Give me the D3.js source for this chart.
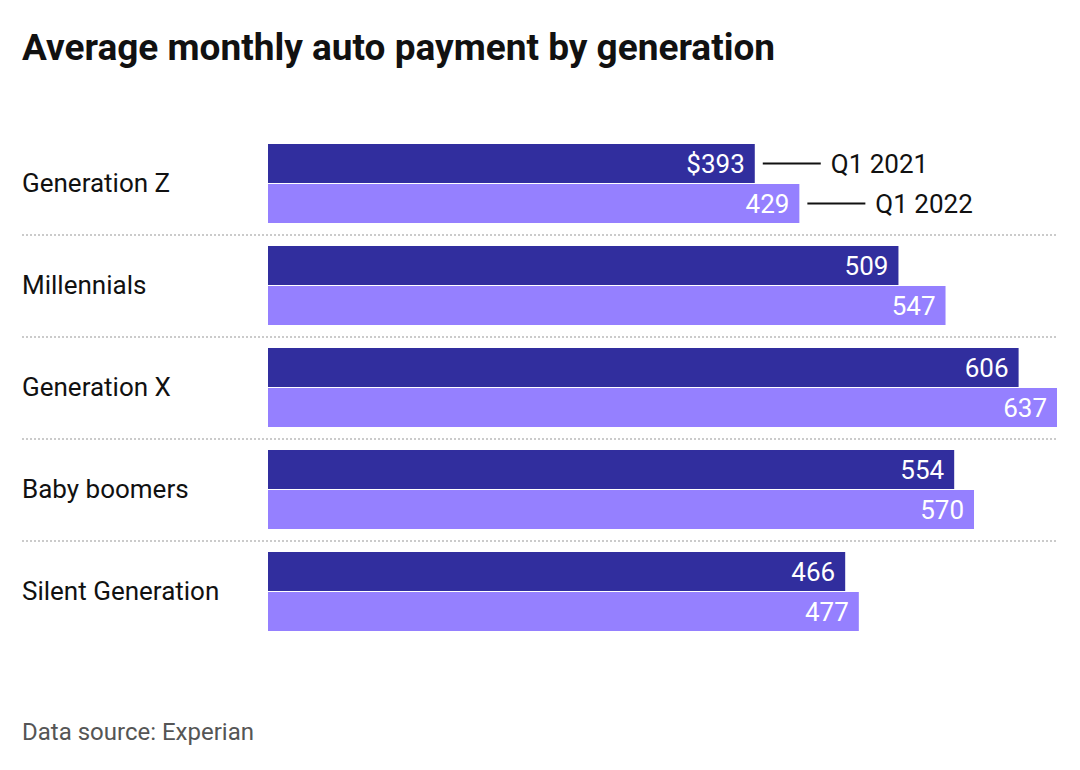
<!DOCTYPE html>
<html><head><meta charset="utf-8">
<script src="https://cdn.jsdelivr.net/npm/d3@7"></script>
<style>body{margin:0;background:#fff;font-family:Roboto,sans-serif;}</style>
</head><body><div class="canvas"></div>
<script>
const generations = ['Generation Z', 'Millennials', 'Generation X', 'Baby boomers', 'Silent Generation'];
const q1_2021 = [393, 509, 606, 554, 466];
const q1_2022 = [429, 547, 637, 570, 477];
const seriesNames = ['Q1 2021', 'Q1 2022'];

const width = 1080, height = 770;
const svg = d3.select('.canvas').append('svg')
  .attr('width', width).attr('height', height);

svg.append('text').attr('x', 22).attr('y', 60)
  .style('font-size', '37px').style('font-weight', 'bold').attr('fill', '#111')
  .text('Average monthly auto payment by generation');

const x = d3.scaleLinear().domain([0, 637]).range([268, 1057]);
const y = d3.scaleBand().domain(generations).range([133, 643]);
const colors = ['#312e9e', '#9580ff'];
const barH = 39;

generations.forEach((g, i) => {
  const top = y(g) + 11;
  [q1_2021[i], q1_2022[i]].forEach((v, k) => {
    const by = top + k * (barH + 1);
    svg.append('rect').attr('x', x(0)).attr('y', by)
      .attr('width', x(v) - x(0)).attr('height', barH).attr('fill', colors[k]);
    svg.append('text').attr('x', x(v) - 10).attr('y', by + barH / 2 + 9)
      .attr('text-anchor', 'end').attr('fill', '#fff').style('font-size', '26px')
      .text((i === 0 && k === 0 ? '$' : '') + v);
    if (i === 0) {
      svg.append('line').attr('x1', x(v) + 8).attr('x2', x(v) + 66)
        .attr('y1', by + barH / 2).attr('y2', by + barH / 2)
        .attr('stroke', '#111').attr('stroke-width', 2);
      svg.append('text').attr('x', x(v) + 76).attr('y', by + barH / 2 + 9)
        .attr('fill', '#111').style('font-size', '26px').text(seriesNames[k]);
    }
  });
  svg.append('text').attr('x', 22).attr('y', top + barH + 9)
    .attr('fill', '#111').style('font-size', '26px').text(g);
  if (i < generations.length - 1) {
    svg.append('line').attr('x1', 22).attr('x2', 1057)
      .attr('y1', y(g) + y.bandwidth()).attr('y2', y(g) + y.bandwidth())
      .attr('stroke', '#bbb').attr('stroke-width', 1.5).attr('stroke-dasharray', '2,2');
  }
});

svg.append('text').attr('x', 22).attr('y', 740)
  .attr('fill', '#555').style('font-size', '24px').text('Data source: Experian');
</script></body></html>
